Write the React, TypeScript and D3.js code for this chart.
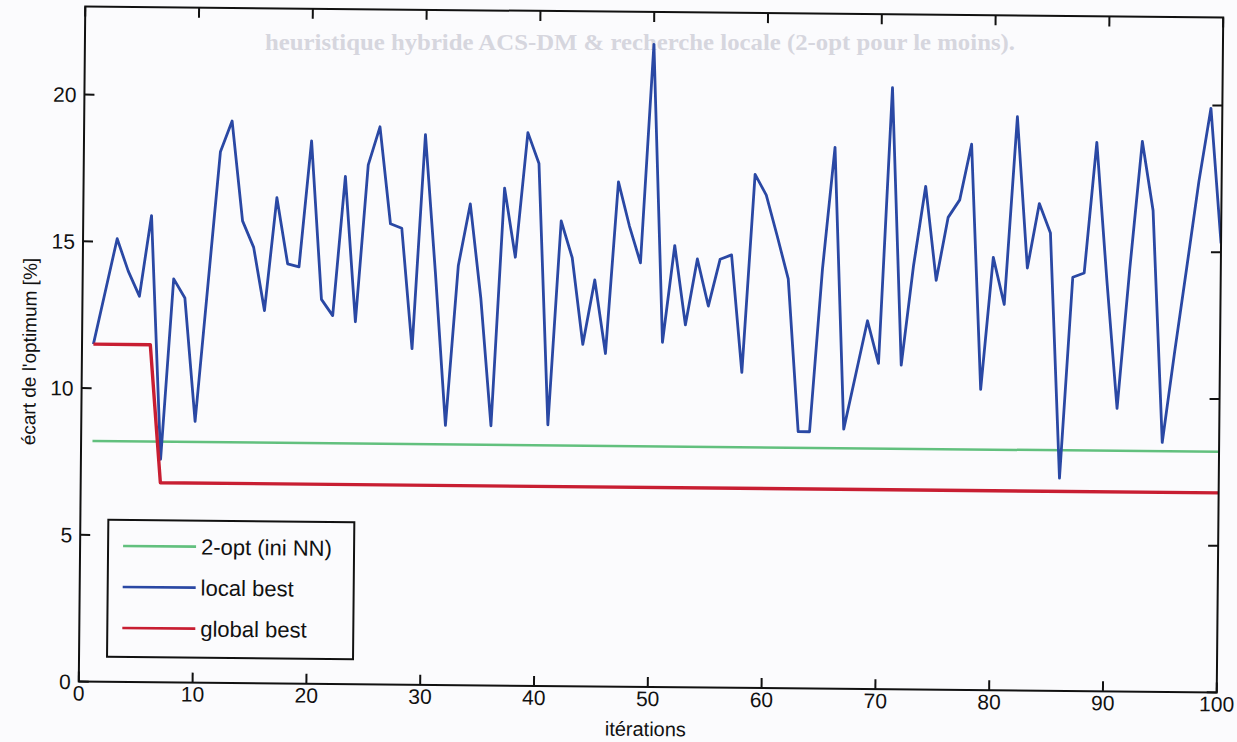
import React from 'react';
import * as d3 from 'd3';

// "local best" deviation from optimum [%] per iteration (1..100)
const localBest: number[] = [
  11.5, 13.3, 15.1, 14.0, 13.15, 15.9, 7.6, 13.75, 13.1, 8.9,
  13.5, 18.1, 19.15, 15.75, 14.85, 12.7, 16.55, 14.3, 14.2, 18.5,
  13.1, 12.55, 17.3, 12.35, 17.7, 19.0, 15.7, 15.55, 11.45, 18.75,
  14.0, 8.85, 14.3, 16.4, 13.2, 8.85, 16.95, 14.6, 18.85, 17.8,
  8.9, 15.85, 14.6, 11.65, 13.85, 11.35, 17.2, 15.7, 14.45, 21.9,
  11.75, 15.05, 12.35, 14.6, 13.0, 14.6, 14.75, 10.75, 17.5, 16.8,
  15.4, 13.95, 8.75, 8.75, 14.3, 18.45, 8.85, 10.7, 12.55, 11.1,
  20.5, 11.05, 14.45, 17.15, 13.95, 16.1, 16.7, 18.6, 10.25, 14.75,
  13.15, 19.55, 14.4, 16.6, 15.6, 7.25, 14.1, 14.25, 18.7, 14.0,
  9.65, 14.4, 18.75, 16.4, 8.5, 11.55, 14.45, 17.4, 19.9, 15.3,
];

// global best: [iteration, value]
const globalBest: [number, number][] = [
  [1, 11.5], [6, 11.5], [7, 6.8], [100, 6.8],
];

// 2-opt (ini NN) reference level: [iteration, value]
const twoOpt: [number, number][] = [
  [1, 8.2], [100, 8.2],
];

const xTicks = [0, 10, 20, 30, 40, 50, 60, 70, 80, 90, 100];
const yTicks = [0, 5, 10, 15, 20];

const GREEN = '#62c07e';
const BLUE = '#2a48a4';
const RED = '#c81e32';

const legendItems = [
  { label: '2-opt (ini NN)', color: GREEN },
  { label: 'local best', color: BLUE },
  { label: 'global best', color: RED },
];

const FONT = '"Liberation Sans", Arial, Helvetica, sans-serif';

export default function App() {
  const W = 1237;
  const H = 742;
  const L = 82, R = 1220, T = 12, B = 687;
  const x = d3.scaleLinear().domain([0, 100]).range([L, R]);
  const y = d3.scaleLinear().domain([0, 23]).range([B, T]);
  const line = d3
    .line<[number, number]>()
    .x((d) => x(d[0]))
    .y((d) => y(d[1]));

  const localPts: [number, number][] = localBest.map((v, i) => [i + 1, v]);
  const tickLen = 10;

  return (
    <svg
      width={W}
      height={H}
      viewBox={`0 0 ${W} ${H}`}
      style={{ position: 'fixed', left: 0, top: 0, display: 'block' }}
    >
      <rect x={0} y={0} width={W} height={H} fill="#fbfbfd" />
      {/* faint show-through text from the scanned page */}
      <text
        x={265}
        y={50}
        fontFamily='"Liberation Serif", "Times New Roman", serif'
        fontWeight="bold"
        fontSize={23}
        fill="#d6d6de"
        textLength={750}
        lengthAdjust="spacingAndGlyphs"
      >
        heuristique hybride ACS-DM &amp; recherche locale (2-opt pour le moins).
      </text>

      <g transform="rotate(0.55, 650, 350)">
        <defs>
          <clipPath id="plotClip">
            <rect x={L} y={T} width={R - L} height={B - T} />
          </clipPath>
        </defs>

        <g clipPath="url(#plotClip)" fill="none" strokeLinejoin="round">
          <path d={line(twoOpt) || ''} stroke={GREEN} strokeWidth={2.5} />
          <path d={line(localPts) || ''} stroke={BLUE} strokeWidth={2.8} />
          <path d={line(globalBest) || ''} stroke={RED} strokeWidth={3.4} />
        </g>

        {/* axes box */}
        <rect x={L} y={T} width={R - L} height={B - T} fill="none" stroke="#111" strokeWidth={2} />

        {/* x ticks */}
        {xTicks.map((t) => (
          <g key={'x' + t}>
            <line x1={x(t)} x2={x(t)} y1={B} y2={B - tickLen} stroke="#111" strokeWidth={2} />
            <line x1={x(t)} x2={x(t)} y1={T} y2={T + tickLen} stroke="#111" strokeWidth={2} />
            <text
              x={x(t)}
              y={B + 19}
              textAnchor="middle"
              fontFamily={FONT}
              fontSize={21}
              fill="#111"
            >
              {t}
            </text>
          </g>
        ))}

        {/* y ticks */}
        {yTicks.map((t) => (
          <g key={'y' + t}>
            <line x1={L} x2={L + tickLen} y1={y(t)} y2={y(t)} stroke="#111" strokeWidth={2} />
            <line x1={R} x2={R - tickLen} y1={y(t)} y2={y(t)} stroke="#111" strokeWidth={2} />
            <text
              x={L - 8}
              y={y(t)}
              dy="0.36em"
              textAnchor="end"
              fontFamily={FONT}
              fontSize={21}
              fill="#111"
            >
              {t}
            </text>
          </g>
        ))}

        {/* axis labels */}
        <text
          x={(L + R) / 2 - 2}
          y={736}
          textAnchor="middle"
          fontFamily={FONT}
          fontSize={20}
          fill="#111"
        >
          itérations
        </text>
        <text
          transform={`translate(36, ${(T + B) / 2 + 8}) rotate(-90)`}
          textAnchor="middle"
          fontFamily={FONT}
          fontSize={19}
          fill="#111"
        >
          écart de l'optimum [%]
        </text>

        {/* legend */}
        <g>
          <rect x={110} y={525} width={246} height={137} fill="#fbfbfd" stroke="#111" strokeWidth={2} />
          {legendItems.map((it, i) => {
            const ly = 551 + i * 41;
            return (
              <g key={it.label}>
                <line x1={125} x2={198} y1={ly} y2={ly} stroke={it.color} strokeWidth={2.6} />
                <text
                  x={203}
                  y={ly}
                  dy="0.36em"
                  fontFamily={FONT}
                  fontSize={22}
                  fill="#111"
                >
                  {it.label}
                </text>
              </g>
            );
          })}
        </g>
      </g>
    </svg>
  );
}
